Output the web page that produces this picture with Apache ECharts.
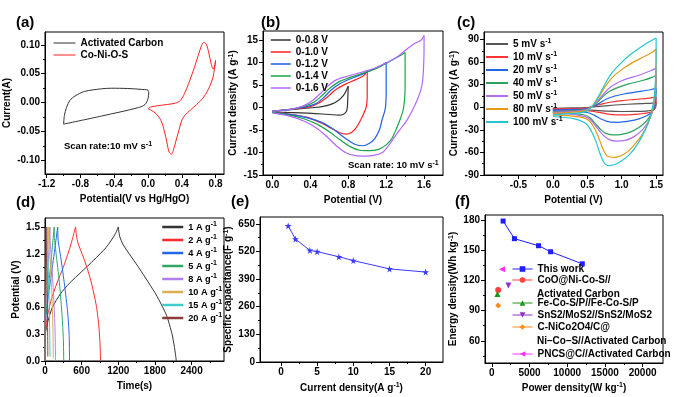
<!DOCTYPE html>
<html><head><meta charset="utf-8">
<script src="https://cdn.jsdelivr.net/npm/echarts@6/dist/echarts.min.js"></script>
<style>html,body{margin:0;padding:0;background:#fff}#c{width:685px;height:397px}</style>
</head><body><div id="c"></div>
<script>
const FONT = '"Liberation Sans", Arial, Helvetica, sans-serif';

// ================= DATA =================
// (a)
const aXTicks = [-1.2,-0.8,-0.4,0.0,0.4,0.8];
const aXMinor = [-1.0,-0.6,-0.2,0.2,0.6];
const aYTicks = [-0.10,-0.05,0.00,0.05,0.10];
const aYMinor = [-0.075,-0.025,0.025,0.075];
const aNames = ['Activated Carbon','Co-Ni-O-S'];
const aCarbon = [[-1.0,-0.037],[-0.99,-0.022],[-0.965,-0.008],[-0.925,0.004],[-0.865,0.0115],[-0.75,0.0195],[-0.55,0.024],[-0.43,0.025],[-0.24,0.0245],[-0.08,0.023],[0.0,0.0215],[0.008,0.017],[0.0,0.007],[-0.035,-0.003],[-0.115,-0.0085],[-0.55,-0.023],[-1.0,-0.037]];
const aCoNiOS = [[0,-0.0104],[0.03,-0.0075],[0.115,-0.0052],[0.23,-0.003],[0.327,-0.0006],[0.385,0.004],[0.431,0.0155],[0.481,0.033],[0.538,0.056],[0.596,0.082],[0.635,0.099],[0.662,0.104],[0.69,0.101],[0.72,0.086],[0.75,0.066],[0.772,0.058],[0.79,0.063],[0.8,0.073],
  [0.77,0.044],[0.73,0.028],[0.662,0.01],[0.577,-0.003],[0.5,-0.013],[0.442,-0.021],[0.404,-0.029],[0.365,-0.048],[0.327,-0.068],[0.3,-0.082],[0.277,-0.089],[0.25,-0.085],[0.223,-0.068],[0.192,-0.048],[0.154,-0.031],[0.096,-0.019],[0.038,-0.013],[0,-0.0104]];

// (b)
const bXTicks = [0.0,0.4,0.8,1.2,1.6];
const bXMinor = [0.2,0.6,1.0,1.4];
const bYTicks = [-15,-10,-5,0,5,10,15];
const bYMinor = [-12.5,-7.5,-2.5,2.5,7.5,12.5];
const bNames = ['0-0.8 V','0-1.0 V','0-1.2 V','0-1.4 V','0-1.6 V'];
const b08 = [[0,-0.85],[0.15,-0.55],[0.3,-0.25],[0.45,0.0],[0.55,0.3],[0.63,0.8],[0.69,1.5],[0.75,2.7],[0.8,4.7],[0.795,2.0],[0.79,0.0],[0.78,-0.9],[0.75,-1.5],[0.7,-1.7],[0.6,-1.55],[0.45,-1.35],[0.3,-1.2],[0.15,-1.1],[0,-1.0]];
const b10 = [[0,-0.8],[0.19,-0.4],[0.39,0.15],[0.49,1.0],[0.58,2.35],[0.67,4.0],[0.78,5.3],[0.88,6.2],[0.97,7.2],[1.0,8.3],[1.0,6.8],[1.0,2.4],[0.99,0.15],[0.97,-1.0],[0.94,-2.4],[0.88,-4.6],[0.83,-5.6],[0.78,-5.9],[0.71,-5.6],[0.62,-4.6],[0.51,-3.4],[0.37,-2.2],[0.19,-1.5],[0,-1.1]];
const b12 = [[0,-0.8],[0.19,-0.4],[0.36,0.2],[0.46,0.9],[0.54,2.2],[0.62,3.9],[0.72,5.4],[0.85,6.6],[0.98,7.7],[1.1,8.9],[1.17,9.6],[1.2,10.0],[1.2,8.5],[1.2,3.0],[1.195,0.5],[1.185,-0.8],[1.16,-2.5],[1.13,-4.9],[1.08,-6.9],[1.02,-8.0],[0.95,-8.5],[0.9,-8.4],[0.83,-7.7],[0.74,-6.4],[0.64,-4.8],[0.52,-3.3],[0.37,-2.3],[0.2,-1.6],[0,-1.1]];
const b14 = [[0,-0.8],[0.19,-0.4],[0.34,0.3],[0.44,1.2],[0.52,2.6],[0.6,4.2],[0.7,5.7],[0.82,6.7],[0.95,7.6],[1.08,8.5],[1.2,9.8],[1.3,11.0],[1.37,11.8],[1.4,12.2],[1.4,10.5],[1.4,5.0],[1.395,2.0],[1.38,-0.5],[1.35,-2.5],[1.31,-4.6],[1.26,-6.9],[1.2,-8.3],[1.12,-9.3],[1.02,-9.6],[0.92,-9.5],[0.82,-8.7],[0.72,-7.3],[0.6,-5.4],[0.48,-3.8],[0.33,-2.5],[0.18,-1.7],[0,-1.15]];
const b16 = [[0,-0.8],[0.19,-0.4],[0.32,0.3],[0.42,1.5],[0.5,3.0],[0.58,4.7],[0.68,6.2],[0.8,7.0],[0.95,7.9],[1.1,8.9],[1.22,10.1],[1.32,11.3],[1.42,13.0],[1.5,14.2],[1.57,15.0],[1.6,16.0],[1.6,13.0],[1.595,9.0],[1.585,6.0],[1.565,3.8],[1.53,1.8],[1.48,-0.5],[1.42,-2.8],[1.36,-4.5],[1.3,-6.2],[1.23,-8.3],[1.16,-10.0],[1.08,-10.6],[0.98,-10.8],[0.88,-10.7],[0.78,-10.1],[0.68,-8.6],[0.57,-6.4],[0.46,-4.5],[0.33,-3.0],[0.18,-1.9],[0,-1.2]];

// (c)
const cXTicks = [-0.5,0.0,0.5,1.0,1.5];
const cXMinor = [-0.75,-0.25,0.25,0.75,1.25];
const cYTicks = [-90,-60,-30,0,30,60,90];
const cYMinor = [-75,-45,-15,15,45,75];
const cNames = ['5 mV s⁻¹','10 mV s⁻¹','20 mV s⁻¹','40 mV s⁻¹','50 mV s⁻¹','80 mV s⁻¹','100 mV s⁻¹'];
const c5 = [[0,-1.3],[0.25,-0.9],[0.47,-0.4],[0.62,0.8],[0.75,1.8],[0.9,3.0],[1.09,4.0],[1.3,4.9],[1.45,5.6],[1.5,7.5],[1.5,3.0],[1.47,-3.0],[1.38,-4.7],[1.2,-5.4],[1.0,-5.6],[0.8,-5.2],[0.62,-4.2],[0.47,-3.3],[0.25,-2.8],[0,-2.6]];
const c10 = [[0,-2.2],[0.25,-1.8],[0.47,-1.0],[0.6,1.5],[0.72,4.5],[0.85,7.0],[1.0,8.8],[1.2,10.5],[1.4,12.2],[1.5,13.5],[1.5,9.0],[1.48,0.0],[1.45,-5.0],[1.38,-7.5],[1.25,-9.0],[1.08,-10.0],[0.92,-10.0],[0.78,-8.8],[0.65,-6.5],[0.5,-4.6],[0.25,-3.8],[0,-3.5]];
const c20 = [[0,-3.5],[0.25,-3.0],[0.47,-2.0],[0.58,1.0],[0.68,5.5],[0.78,11.0],[0.9,15.0],[1.05,18.0],[1.25,20.8],[1.42,23.3],[1.5,25.0],[1.5,18.5],[1.48,3.0],[1.44,-6.0],[1.37,-11.0],[1.25,-15.5],[1.1,-18.5],[0.95,-20.0],[0.82,-19.5],[0.7,-15.5],[0.6,-10.5],[0.5,-7.0],[0.3,-5.5],[0,-4.9]];
const c40 = [[0,-5.7],[0.25,-5.0],[0.47,-3.0],[0.57,1.0],[0.65,7.0],[0.73,14.5],[0.83,21.5],[0.95,26.5],[1.1,31.0],[1.3,35.5],[1.45,40.0],[1.5,43.0],[1.5,32.0],[1.48,8.0],[1.44,-6.0],[1.38,-16.0],[1.28,-25.0],[1.15,-32.0],[1.0,-36.0],[0.88,-36.8],[0.78,-35.0],[0.7,-30.0],[0.62,-22.0],[0.54,-14.0],[0.45,-10.0],[0.25,-8.0],[0,-7.1]];
const c50 = [[0,-6.6],[0.25,-5.8],[0.47,-3.5],[0.56,0.5],[0.64,7.5],[0.72,16.0],[0.8,24.0],[0.92,31.5],[1.05,37.0],[1.25,42.5],[1.42,48.5],[1.5,52.0],[1.5,40.0],[1.48,10.0],[1.44,-8.0],[1.38,-20.0],[1.3,-30.0],[1.18,-39.0],[1.05,-44.0],[0.92,-45.0],[0.82,-43.0],[0.73,-37.0],[0.64,-27.0],[0.56,-18.0],[0.47,-12.5],[0.25,-9.0],[0,-7.9]];
const c80 = [[0,-7.9],[0.25,-6.8],[0.47,-4.5],[0.56,0.5],[0.63,8.0],[0.7,18.5],[0.78,30.0],[0.88,41.0],[1.0,50.0],[1.15,59.0],[1.32,67.0],[1.45,73.5],[1.5,77.0],[1.5,54.0],[1.48,15.0],[1.44,-6.0],[1.38,-22.0],[1.3,-36.0],[1.2,-48.0],[1.1,-58.0],[1.0,-64.0],[0.9,-66.5],[0.8,-65.5],[0.74,-58.0],[0.68,-44.0],[0.61,-29.0],[0.54,-19.0],[0.45,-14.0],[0.25,-11.5],[0,-10.1]];
const c100 = [[0,-10.1],[0.25,-8.5],[0.47,-5.7],[0.56,0.0],[0.62,8.0],[0.69,19.0],[0.77,33.0],[0.86,46.0],[0.97,57.0],[1.1,68.0],[1.25,78.0],[1.38,86.0],[1.5,92.0],[1.5,67.0],[1.48,18.5],[1.44,-4.0],[1.38,-22.0],[1.3,-38.0],[1.2,-53.0],[1.1,-64.0],[1.0,-71.0],[0.9,-76.0],[0.8,-77.5],[0.74,-73.0],[0.68,-60.0],[0.62,-44.0],[0.55,-30.0],[0.47,-21.0],[0.3,-15.0],[0,-12.3]];

// (d)
const dXTicks = [0,600,1200,1800,2400];
const dXMinor = [300,900,1500,2100,2700];
const dYTicks = [0.0,0.3,0.6,0.9,1.2,1.5];
const dYMinor = [0.15,0.45,0.75,1.05,1.35];
const dNames = ['1 A g⁻¹','2 A g⁻¹','4 A g⁻¹','5 A g⁻¹','8 A g⁻¹','10 A g⁻¹','15 A g⁻¹','20 A g⁻¹'];
const d1 = [[0,0],[5,0.3],[50,0.45],[120,0.6],[250,0.75],[400,0.87],[600,1.0],[800,1.13],[1000,1.27],[1150,1.42],[1200,1.5],[1220,1.4],[1280,1.3],[1550,1.03],[1820,0.74],[1990,0.51],[2080,0.3],[2120,0.15],[2140,0.05],[2150,0]];
const d2 = [[0,0],[3,0.3],[40,0.5],[100,0.68],[200,0.88],[300,1.05],[400,1.25],[470,1.42],[500,1.5],[515,1.4],[540,1.32],[650,1.12],[750,0.9],[840,0.62],[880,0.4],[900,0.2],[910,0]];
const d4 = [[0,0],[2,0.35],[30,0.6],[80,0.85],[150,1.2],[208,1.5],[215,1.35],[260,1.15],[320,0.85],[370,0.55],[395,0.3],[402,0]];
const d5 = [[0,0],[2,0.4],[25,0.6],[60,0.85],[110,1.2],[150,1.5],[155,1.37],[190,1.15],[240,0.85],[280,0.5],[300,0.25],[307,0]];
const d8 = [[0,0],[1,0.45],[15,0.65],[40,0.95],[65,1.25],[80,1.5],[85,1.33],[110,1.1],[140,0.75],[162,0.4],[170,0.15],[172,0]];
const d10 = [[0,0],[1,0.5],[12,0.7],[30,1.0],[50,1.3],[62,1.5],[67,1.3],[90,1.05],[115,0.7],[130,0.35],[137,0.03]];
const d15 = [[0,0],[1,0.55],[8,0.75],[20,1.05],[30,1.3],[35,1.5],[40,1.3],[55,1.0],[70,0.6],[79,0.25],[82,0.05]];
const d20 = [[0,0],[1,0.6],[5,0.8],[10,1.1],[15,1.35],[17,1.5],[20,1.3],[30,1.0],[40,0.55],[45,0.2],[46,0.05]];

// (e)
const eXTicks = [0,5,10,15,20];
const eXMinor = [2.5,7.5,12.5,17.5];
const eYTicks = [0,130,260,390,520,650];
const eYMinor = [65,195,325,455,585];
const eCurrent = [1,2,4,5,8,10,15,20];
const eCap = [640,578,525,519,495,477,438,423];

// (f)
const fXTicks = [0,5000,10000,15000,20000];
const fXMinor = [2500,7500,12500,17500];
const fYTicks = [60,90,120,150,180];
const fYMinor = [45,75,105,135,165];
const fThisPower = [1500,3000,6200,7800,12000];
const fThisEnergy = [179,161.5,154.5,148.5,136.5];
const fOtherNames = ['CoO@Ni-Co-S//','Fe-Co-S/P//Fe-Co-S/P','SnS2/MoS2//SnS2/MoS2','C-NiCo2O4/C@','PNCS@C//Activated Carbon'];
const fOtherPower = [850,750,2200,850,1350];
const fOtherEnergy = [110.5,106.5,115,95,131];

// ================= BUILD =================
const SUP = {fontSize:7, fontWeight:'bold', fontFamily:FONT, verticalAlign:'top', lineHeight:7, color:'#000', fill:'#000'};
const RICH = {s: SUP};
const supify = s => s.replace(/⁻¹/g, '{s|-1}');

const grids = [
  {left:45, top:32, width:179, height:142},
  {left:263, top:31, width:180, height:144},
  {left:484, top:32, width:179, height:143},
  {left:45, top:218, width:179, height:143},
  {left:260, top:217, width:183, height:145},
  {left:485, top:215, width:178, height:148}
].map(g => Object.assign({show:true, borderColor:'#000', borderWidth:1, backgroundColor:'transparent', outerBoundsMode:'none', containLabel:false}, g));

const xAxes = [], yAxes = [];
function axisPair(list, dim, gi, range, ticks, minor, dec, name, gap) {
  const pos = dim === 'x' ? 'bottom' : 'left';
  list.push({
    type:'value', gridIndex:gi, min:range[0], max:range[1], position:pos,
    name:supify(name), nameLocation:'middle', nameGap:gap,
    nameTextStyle:{color:'#000', fontFamily:FONT, fontWeight:'bold', fontSize:10, lineHeight:12, rich:RICH},
    axisLine:{show:true, onZero:false, lineStyle:{color:'#000', width:1}},
    axisTick:{show:true, inside:false, length:4, customValues:ticks, lineStyle:{color:'#000', width:1}},
    axisLabel:{show:true, customValues:ticks, margin:5, color:'#000', fontFamily:FONT, fontWeight:'bold', fontSize:10,
      formatter: v => Number(v).toFixed(dec)},
    splitLine:{show:false}, minorTick:{show:false}, minorSplitLine:{show:false}
  });
  list.push({
    type:'value', gridIndex:gi, min:range[0], max:range[1], position:pos,
    axisLine:{show:false, onZero:false}, axisLabel:{show:false}, splitLine:{show:false},
    axisTick:{show:true, inside:false, length:2, customValues:minor, lineStyle:{color:'#000', width:1}}
  });
}
axisPair(xAxes,'x',0,[-1.22,0.9],aXTicks,aXMinor,1,'Potential(V vs Hg/HgO)',19);
axisPair(yAxes,'y',0,[-0.123,0.122],aYTicks,aYMinor,2,'Current(A)',27);
axisPair(xAxes,'x',1,[-0.1,1.8],bXTicks,bXMinor,1,'Potential (V)',19);
axisPair(yAxes,'y',1,[-15,17],bYTicks,bYMinor,0,'Current density (A g⁻¹)',17);
axisPair(xAxes,'x',2,[-1.0,1.6],cXTicks,cXMinor,1,'Potential (V)',19);
axisPair(yAxes,'y',2,[-90,100],cYTicks,cYMinor,0,'Current density (A g⁻¹)',22);
axisPair(xAxes,'x',3,[0,2930],dXTicks,dXMinor,0,'Time(s)',19);
axisPair(yAxes,'y',3,[0,1.6],dYTicks,dYMinor,1,'Potential (V)',20);
axisPair(xAxes,'x',4,[-2.9,22.4],eXTicks,eXMinor,0,'Current density(A g⁻¹)',20);
axisPair(yAxes,'y',4,[0,682],eYTicks,eYMinor,0,'Specific capacitance(F g⁻¹)',20);
axisPair(xAxes,'x',5,[-900,22700],fXTicks,fXMinor,0,'Power density(W kg⁻¹)',19);
axisPair(yAxes,'y',5,[38,185],fYTicks,fYMinor,0,'Energy density(Wh kg⁻¹)',20);

const series = [];
function addLine(gi, name, data, color, width, extra) {
  series.push(Object.assign({
    type:'line', name:name, data:data, xAxisIndex:2*gi, yAxisIndex:2*gi,
    symbol:'none', smooth:0.3, lineStyle:{color:color, width:width}, itemStyle:{color:color},
    animation:false
  }, extra || {}));
}
function splitBy(arr, k) {
  let m = 0;
  arr.forEach((p, i) => { if (p[k] > arr[m][k]) m = i; });
  return [arr.slice(0, m + 1), arr.slice(m)];
}
function addSplit(gi, name, data, color, width, k, extra) {
  splitBy(data, k).forEach(part => addLine(gi, name, part, color, width, extra));
}

// (a)
addLine(0, aNames[0], aCarbon, '#333333', 1);
addSplit(0, aNames[1], aCoNiOS, '#ff2020', 1, 0);
// (b)
const bColors = ['#333333','#ff2020','#1f5fe6','#1aa34a','#b266ff'];
[b08,b10,b12,b14,b16].forEach((d,i) => addSplit(1, bNames[i], d, bColors[i], 1.2, 0));
// (c)
const cColors = ['#555555','#ff3333','#2166e8','#2ca05c','#b070f0','#e49a12','#26c6d0'];
[c5,c10,c20,c40,c50,c80,c100].forEach((d,i) => addSplit(2, cNames[i], d, cColors[i], 1.2, 0));
// (d)
const dColors = ['#333333','#ff2a2a','#2266ee','#2ca864','#b27ff0','#dcae50','#40cccc','#8b3a3a'];
[d1,d2,d4,d5,d8,d10,d15,d20].forEach((d,i) => addSplit(3, dNames[i], d, dColors[i], 1, 1, {smooth:0.2}));
// (e)
const STAR = 'path://M50,0 L61,35 L98,35 L68,57 L79,91 L50,70 L21,91 L32,57 L2,35 L39,35 Z';
addLine(4, 'capacitance', eCurrent.map((x,i)=>[x,eCap[i]]), '#3a3aff', 1, {symbol:STAR, symbolSize:7, smooth:false});
// (f)
addLine(5, 'This work', fThisPower.map((x,i)=>[x,fThisEnergy[i]]), '#1e1eff', 1, {symbol:'rect', symbolSize:5, smooth:false});
const fColors = ['#ff4040','#1a961a','#9030c0','#ff8c1a','#ff30ff'];
const fSymbols = ['circle','triangle','path://M0,0 L10,0 L5,9 Z','diamond','path://M9,0 L9,10 L0,5 Z'];
fOtherNames.forEach((n,i) => addLine(5, n, [[fOtherPower[i], fOtherEnergy[i]]], fColors[i], 1, {symbol:fSymbols[i], symbolSize:6, smooth:false}));

function legend(data, left, top, itemWidth, gap, lw, showSym, fs) {
  return {
    data:data, left:left, top:top, orient:'vertical', padding:0, itemGap:gap,
    itemWidth:itemWidth, itemHeight: showSym ? 7 : 10, selectedMode:false,
    lineStyle:{width:lw},
    itemStyle: showSym ? {} : {opacity:0},
    formatter: supify,
    textStyle:{color:'#000', fontFamily:FONT, fontWeight:'bold', fontSize:fs || 10, lineHeight:12, rich:RICH}
  };
}
const legends = [
  legend(aNames, 53, 37, 22, 0, 1, false),
  legend(bNames, 270, 34, 20, 0, 1.5, false),
  legend(cNames, 485, 38, 22, 1, 2, false),
  legend(dNames, 161, 221, 21, 1, 2.5, false, 9.2),
  legend(['This work', fOtherNames[0]], 512, 263, 20, -1, 1, true),
  legend(fOtherNames.slice(1,4), 512, 297, 20, 0, 1, true),
  legend([fOtherNames[4]], 512, 348, 20, 0, 1, true)
];

function txt(x, y, text, size) {
  return {type:'text', x:x, y:y, z:100, style:{text:supify(text), fill:'#000', fontSize:size, fontWeight:'bold', fontFamily:FONT, lineHeight:Math.round(size*1.2), verticalAlign:'middle', align:'left', rich:RICH}};
}
const graphics = [
  txt(16,23,'(a)',15), txt(261,23,'(b)',15), txt(457,23,'(c)',15),
  txt(16,203,'(d)',15), txt(231,202,'(e)',15), txt(455,202,'(f)',15),
  txt(64,146,'Scan rate:10 mV s⁻¹',9.5),
  txt(348,165,'Scan rate: 10 mV s⁻¹',9.5),
  txt(537,294,'Activated Carbon',10),
  txt(537,341.5,'Ni–Co–S//Activated Carbon',10)
];

const chart = echarts.init(document.getElementById('c'), null, {renderer:'canvas'});
chart.setOption({
  animation:false,
  backgroundColor:'#fff',
  textStyle:{fontFamily:FONT},
  grid:grids, xAxis:xAxes, yAxis:yAxes, series:series, legend:legends, graphic:graphics
});
</script></body></html>
